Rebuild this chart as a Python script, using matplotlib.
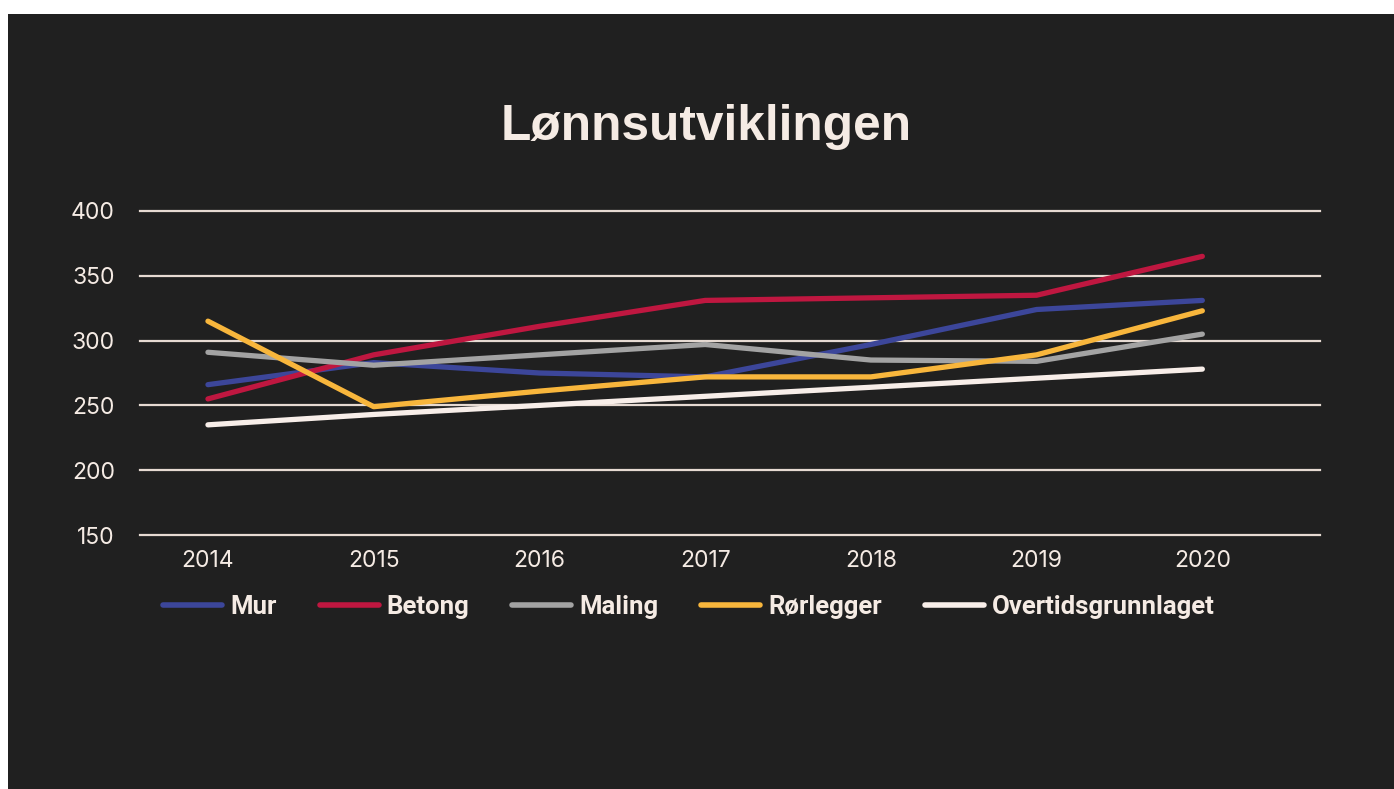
import matplotlib.pyplot as plt
from matplotlib.patches import Rectangle

years = ["2014", "2015", "2016", "2017", "2018", "2019", "2020"]
mur = [266, 283, 275, 272, 297, 324, 331]
betong = [255, 289, 311, 331, 333, 335, 365]
maling = [291, 281, 289, 297, 285, 284, 305]
rorlegger = [315, 249, 261, 272, 272, 289, 323]
overtid = [235, 243, 250, 257, 264, 271, 278]

series = [
    ("Mur", mur, "#3c469a"),
    ("Betong", betong, "#bf1740"),
    ("Maling", maling, "#a3a3a3"),
    ("Rørlegger", rorlegger, "#f8b63c"),
    ("Overtidsgrunnlaget", overtid, "#f8eee9"),
]

bg = "#202020"
txt = "#f5ebe4"
plt.rcParams["font.family"] = ["Inter", "DejaVu Sans"]

fig = plt.figure(figsize=(13.94, 7.89), dpi=100, facecolor="white")
fig.patches.append(Rectangle((8 / 1394, 0), 1 - 8 / 1394, 1 - 14 / 789,
                             transform=fig.transFigure, facecolor=bg,
                             edgecolor="none", zorder=-5))

ax = fig.add_axes([140 / 1394, 1 - 535 / 789, 1180 / 1394, 324 / 789])
ax.set_zorder(2)
ax.set_facecolor(bg)
x = range(len(years))
for name, vals, col in series:
    ax.plot(x, vals, color=col, lw=3.8, label=name,
            solid_capstyle="round", solid_joinstyle="round", zorder=3)

ax.set_ylim(150, 400)
ax.set_xlim(-0.41, 6.71)
ax.set_yticks([150, 200, 250, 300, 350, 400])
ax.set_xticks(list(x))
ax.set_xticklabels(years)
for s in ax.spines.values():
    s.set_visible(False)
ax.yaxis.grid(True, color="#e6dad2", lw=1.6)
for gl in ax.get_ygridlines():
    gl.set_clip_on(False)
ax.tick_params(length=0, labelsize=16.5, colors=txt)
ax.tick_params(axis="y", pad=18)
ax.tick_params(axis="x", pad=10.5)
for lbl in ax.get_yticklabels():
    lbl.set_horizontalalignment("right")

fig.text(706 / 1394, 1 - 127 / 789, "Lønnsutviklingen", ha="center",
         va="center", fontsize=35.7, fontweight="bold", color=txt,
         family=["Liberation Sans", "DejaVu Sans"])

leg = fig.legend(loc="center", bbox_to_anchor=(689 / 1394, 1 - 607 / 789),
                 ncol=5, frameon=False, handlelength=2.3,
                 handletextpad=0.31, columnspacing=1.67,
                 prop={"family": ["Roboto", "DejaVu Sans"], "size": 18.5,
                       "weight": "bold"})
for t in leg.get_texts():
    t.set_color(txt)
for h in leg.get_lines():
    h.set_linewidth(4)
    h.set_solid_capstyle("round")

fig.savefig("out.png", dpi=100, facecolor="white")
